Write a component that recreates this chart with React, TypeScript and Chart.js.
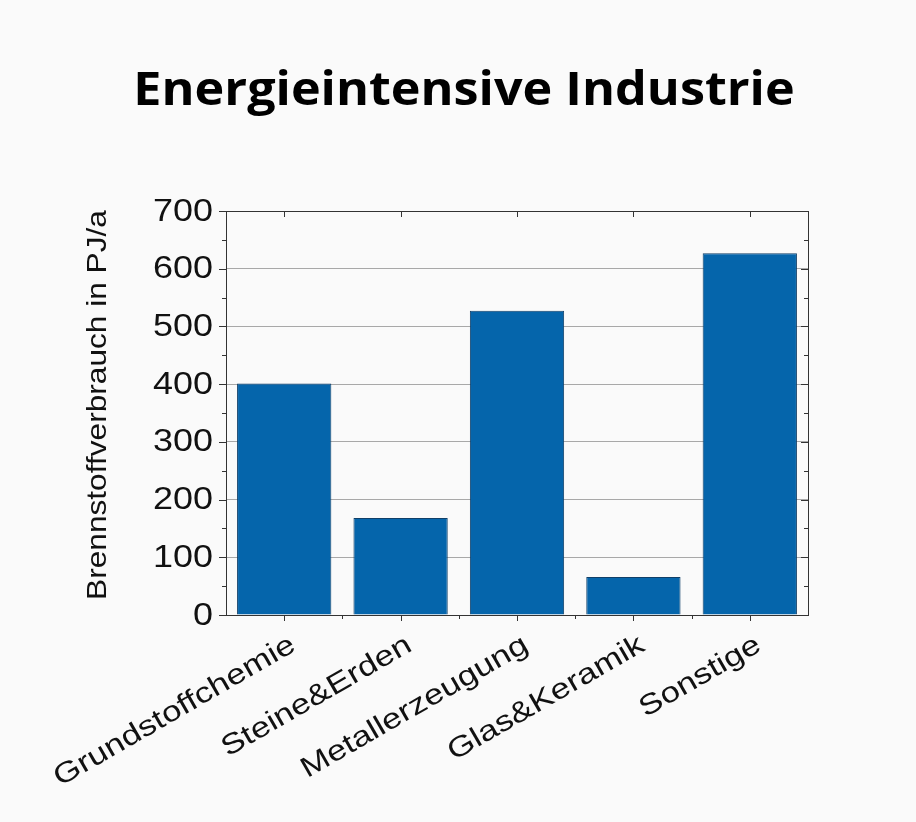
import React, { useEffect, useRef } from "react";
import { Chart, registerables } from "chart.js";
Chart.register(...registerables);

const categories = ["Grundstoffchemie", "Steine&Erden", "Metallerzeugung", "Glas&Keramik", "Sonstige"];
const values = [401, 168, 527, 66, 627];
const yTicks = [0, 100, 200, 300, 400, 500, 600, 700];
const titleText = "Energieintensive Industrie";
const yAxisTitle = "Brennstoffverbrauch in PJ/a";

const SANS = "'Liberation Sans', Arial, sans-serif";

function drawText(ctx: any, text: string, x: number, y: number, angle: number, sx: number, align: string, baseline: string, font: string) {
  ctx.save();
  ctx.translate(x, y);
  ctx.rotate(angle);
  ctx.scale(sx, 1);
  ctx.font = font;
  ctx.textAlign = align;
  ctx.textBaseline = baseline;
  ctx.fillText(text, 0, 0);
  ctx.restore();
}

const frame = {
  id: "frame",
  afterDraw(chart: any) {
    const ctx = chart.ctx;
    const { left, right, top, bottom } = chart.chartArea;
    const y = chart.scales.y;
    const x = chart.scales.x;
    ctx.save();
    ctx.fillStyle = "#000";
    drawText(ctx, titleText, 464, 105, 0, 1.07, "center", "alphabetic", "bold 47px 'Open Sans', 'DejaVu Sans', sans-serif");
    ctx.fillStyle = "#111";
    drawText(ctx, yAxisTitle, 106, (top + bottom) / 2 - 8, -Math.PI / 2, 1.13, "center", "alphabetic", `28px ${SANS}`);
    for (const v of yTicks) {
      drawText(ctx, String(v), left - 13, y.getPixelForValue(v) + 1, 0, 1.16, "right", "middle", `31px ${SANS}`);
    }
    categories.forEach((c, i) => {
      drawText(ctx, c, x.getPixelForValue(i) + 9, bottom + 28, -Math.PI / 6, 1.22, "right", "middle", `28.5px ${SANS}`);
    });
    // frame
    ctx.strokeStyle = "#333";
    ctx.lineWidth = 1;
    ctx.strokeRect(left + 0.5, top + 0.5, right - left, bottom - top);
    ctx.beginPath();
    for (let v = 0; v <= 700; v += 50) {
      const py = Math.round(y.getPixelForValue(v)) + 0.5;
      const len = v % 100 === 0 ? 7 : 4;
      ctx.moveTo(left, py); ctx.lineTo(left - len, py);
      ctx.moveTo(right, py); ctx.lineTo(right - len, py);
    }
    const n = categories.length;
    for (let i = 0; i < n; i++) {
      const px = Math.round(x.getPixelForValue(i)) + 0.5;
      ctx.moveTo(px, bottom); ctx.lineTo(px, bottom + 6);
      ctx.moveTo(px, top); ctx.lineTo(px, top + 6);
      if (i < n - 1) {
        const bx = Math.round((x.getPixelForValue(i) + x.getPixelForValue(i + 1)) / 2) + 0.5;
        ctx.moveTo(bx, bottom); ctx.lineTo(bx, bottom + 4);
      }
    }
    ctx.stroke();
    ctx.restore();
  },
};

export default function App() {
  const ref = useRef<HTMLCanvasElement>(null);
  useEffect(() => {
    document.body.style.margin = "0";
    const chart = new Chart(ref.current!, {
      type: "bar",
      data: {
        labels: categories,
        datasets: [
          {
            data: values,
            backgroundColor: "#0565ab",
            borderColor: "#103f68",
            borderWidth: 1,
            barPercentage: 0.81,
            categoryPercentage: 1,
          },
        ],
      },
      options: {
        animation: false,
        responsive: false,
        plugins: { legend: { display: false }, tooltip: { enabled: false } },
        layout: { padding: { top: 211, right: 108, left: 70, bottom: 0 } },
        scales: {
          x: {
            grid: { display: false, drawTicks: false },
            border: { display: false },
            ticks: { display: false },
            afterFit(s: any) { s.height = 207; },
          },
          y: {
            min: 0,
            max: 700,
            grid: { color: "#a8a8a8", drawTicks: false, lineWidth: 1 },
            border: { display: false },
            ticks: { stepSize: 100, display: false },
            afterFit(s: any) { s.width = 156; },
          },
        },
      },
      plugins: [frame],
    });
    return () => chart.destroy();
  }, []);
  return (
    <div style={{ width: 916, height: 822, background: "#fafafa" }}>
      <canvas ref={ref} width={916} height={822} />
    </div>
  );
}
